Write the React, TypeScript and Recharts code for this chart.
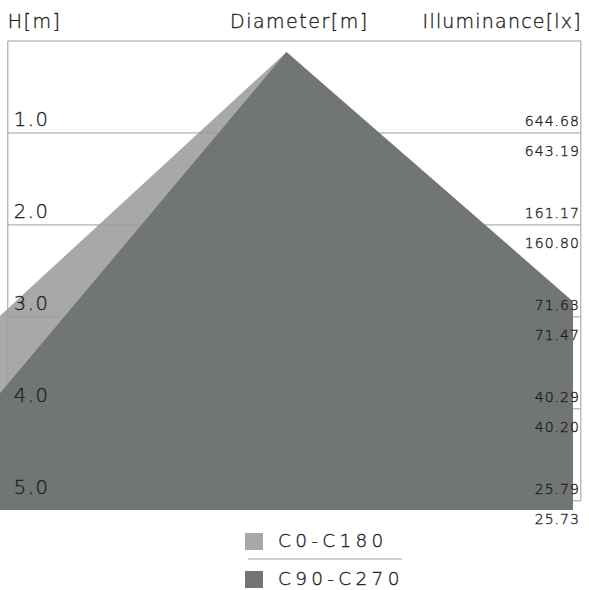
import React from 'react';
import { ComposedChart, Area, XAxis, YAxis, ReferenceLine, Legend } from 'recharts';

// ---- data ----
const heights = [1, 2, 3, 4, 5];
const heightLabels = ['1.0', '2.0', '3.0', '4.0', '5.0'];
const luxC0 = ['644.68', '161.17', '71.63', '40.29', '25.79'];
const luxC90 = ['643.19', '160.80', '71.47', '40.20', '25.73'];

// beam outlines: horizontal position [m] vs height [m]
const outlineD = [-5.41, -4.18, 0, 5.41, 5.72];
const c0H = [5.1, null, 0.12, 5.1, null];
const c90H = [null, 5.1, 0.12, null, 5.1];

const seriesNames = ['C0-C180', 'C90-C270'];
const seriesColors = ['#a7a8a7', '#727576'];

const xDomain = [-3.115, 3.115];
const yDomain = [0, 5.1];
const frameX = [-3.03, 3.2];
const frameH = [0, 5];

const FONT = '"DejaVu Sans", sans-serif';
const TEXT = '#1e1e1e';
const LINE = '#9d9d9d';

const tableData = outlineD.map((d, i) => ({ d, c0: c0H[i], c90: c90H[i] }));

const txt = (size: number, spacing: number) =>
  ({
    fontSize: size,
    fontFamily: FONT,
    fontWeight: 300,
    letterSpacing: spacing,
    fill: TEXT,
    stroke: TEXT,
    strokeWidth: 0.35,
  } as any);

const rowLabel = (i: number) => (props: any) => {
  const vb = props.viewBox || {};
  const x = vb.x ?? 0;
  const y = vb.y ?? 0;
  const w = vb.width ?? 0;
  return (
    <g>
      <text x={x + 6} y={y - 7} {...txt(19.5, 1.5)}>
        {heightLabels[i]}
      </text>
      <text x={x + w - 1} y={y - 7} textAnchor="end" {...txt(14, 1)}>
        {luxC0[i]}
      </text>
      <text x={x + w - 1} y={y + 23} textAnchor="end" {...txt(14, 1)}>
        {luxC90[i]}
      </text>
    </g>
  );
};

const titleLabel = (props: any) => {
  const vb = props.viewBox || {};
  const x = vb.x ?? 0;
  const y = vb.y ?? 0;
  const w = vb.width ?? 0;
  return (
    <g>
      <text x={x} y={y - 13} {...txt(19, 1.5)}>H[m]</text>
      <text x={x + w / 2 + 5} y={y - 13} textAnchor="middle" {...txt(19, 1.5)}>Diameter[m]</text>
      <text x={x + w + 1} y={y - 13} textAnchor="end" {...txt(19, 1.2)}>Illuminance[lx]</text>
    </g>
  );
};

const renderLegend = (props: any) => {
  const payload = props.payload || [];
  return (
    <svg width={589} height={62} style={{ display: 'block' }}>
      {payload.map((p: any, i: number) => (
        <g key={i}>
          <rect x={245} y={5 + i * 38} width={18} height={17} fill={p.color} />
          <text x={278} y={19 + i * 38} {...txt(18.5, 4.3)}>
            {p.value}
          </text>
        </g>
      ))}
      <line x1={248} x2={402} y1={31} y2={31} stroke="#c4c4c4" strokeWidth={1.5} />
    </svg>
  );
};

export default function App() {
  return (
    <div style={{ position: 'absolute', left: 0, top: 0 }}>
      <ComposedChart
        width={589}
        height={590}
        data={tableData}
        margin={{ top: 41, right: 16, bottom: 80, left: 0 }}
      >
        <XAxis type="number" dataKey="d" domain={xDomain} allowDataOverflow hide />
        <YAxis type="number" domain={yDomain} reversed allowDataOverflow hide />
        <Area
          type="linear"
          dataKey="c0"
          name={seriesNames[0]}
          fill={seriesColors[0]}
          stroke="none"
          fillOpacity={1}
          baseValue={yDomain[1]}
          connectNulls
          isAnimationActive={false}
          zIndex={100}
        />
        {/* frame and grid */}
        <ReferenceLine
          segment={[{ x: frameX[0], y: frameH[0] }, { x: frameX[1], y: frameH[0] }]}
          stroke={LINE}
          ifOverflow="visible"
          zIndex={150}
        />
        <ReferenceLine
          segment={[{ x: frameX[0], y: frameH[0] }, { x: frameX[0], y: frameH[1] }]}
          stroke={LINE}
          ifOverflow="visible"
          zIndex={150}
        />
        <ReferenceLine
          segment={[{ x: frameX[1], y: frameH[0] }, { x: frameX[1], y: frameH[1] }]}
          stroke={LINE}
          ifOverflow="visible"
          zIndex={150}
        />
        {heights.map((h) => (
          <ReferenceLine
            key={'g' + h}
            segment={[{ x: frameX[0], y: h }, { x: frameX[1], y: h }]}
            stroke={LINE}
            ifOverflow="visible"
            zIndex={150}
          />
        ))}
        <Area
          type="linear"
          dataKey="c90"
          name={seriesNames[1]}
          fill={seriesColors[1]}
          stroke="none"
          fillOpacity={1}
          baseValue={yDomain[1]}
          connectNulls
          isAnimationActive={false}
          zIndex={200}
        />
        {/* labels on top */}
        <ReferenceLine
          segment={[{ x: frameX[0], y: frameH[0] }, { x: frameX[1], y: frameH[0] }]}
          stroke="none"
          ifOverflow="visible"
          label={titleLabel}
          zIndex={300}
        />
        {heights.map((h, i) => (
          <ReferenceLine
            key={'l' + h}
            segment={[{ x: frameX[0], y: h }, { x: frameX[1], y: h }]}
            stroke="none"
            ifOverflow="visible"
            label={rowLabel(i)}
            zIndex={300}
          />
        ))}
        <Legend
          layout="vertical"
          align="center"
          verticalAlign="middle"
          width={589}
          height={62}
          content={renderLegend}
          wrapperStyle={{ position: 'absolute', left: 0, top: 528, width: 589, height: 62 }}
        />
      </ComposedChart>
    </div>
  );
}
